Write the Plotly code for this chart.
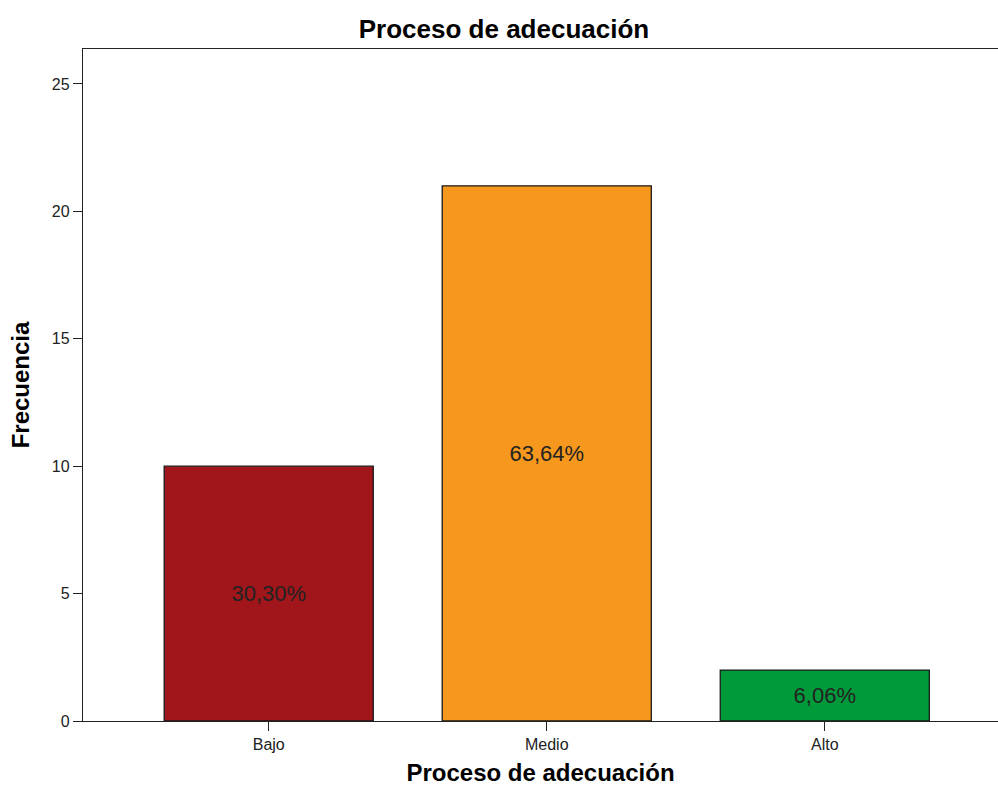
import plotly.graph_objects as go

categories = ["Bajo", "Medio", "Alto"]
frequencies = [10, 21, 2]
percent_labels = ["30,30%", "63,64%", "6,06%"]
bar_colors = ["#A0161A", "#F7981E", "#009A3A"]
y_ticks = [0, 5, 10, 15, 20, 25]

FONT = "Liberation Sans, Arial, sans-serif"

fig = go.Figure(
    go.Bar(
        x=list(range(len(categories))),
        y=frequencies,
        text=percent_labels,
        textposition="inside",
        insidetextanchor="middle",
        textangle=0,
        textfont=dict(family=FONT, size=22, color="#222222"),
        marker=dict(color=bar_colors, line=dict(color="#1a1a1a", width=1.3)),
        width=0.752,
        hoverinfo="skip",
    )
)

fig.update_layout(
    width=998,
    height=794,
    margin=dict(l=83, r=0, t=49, b=73),
    paper_bgcolor="white",
    plot_bgcolor="white",
    showlegend=False,
    uniformtext=dict(minsize=8, mode=False),
    title=dict(
        text="<b>Proceso de adecuación</b>",
        x=0.505,
        xanchor="center",
        y=0.963,
        yanchor="middle",
        font=dict(family=FONT, size=26, color="#000000"),
    ),
    font=dict(family=FONT, color="#000000"),
)

fig.update_xaxes(
    range=[-0.668, 2.623],
    tickmode="array",
    tickvals=list(range(len(categories))),
    ticktext=categories,
    ticks="outside",
    ticklen=9,
    tickwidth=1.3,
    tickcolor="#222222",
    tickfont=dict(family=FONT, size=16, color="#222222"),
    showline=True,
    linecolor="#222222",
    linewidth=1.3,
    mirror=True,
    showgrid=False,
    zeroline=False,
    title=dict(
        text="<b>Proceso de adecuación</b>",
        font=dict(family=FONT, size=24, color="#000000"),
        standoff=11,
    ),
)

fig.update_yaxes(
    range=[0, 26.37],
    tickmode="array",
    tickvals=y_ticks,
    ticks="outside",
    ticklen=9,
    tickwidth=1.3,
    tickcolor="#222222",
    tickfont=dict(family=FONT, size=16, color="#222222"),
    showline=True,
    linecolor="#222222",
    linewidth=1.3,
    showgrid=False,
    zeroline=False,
    title=dict(
        text="<b>Frecuencia</b>",
        font=dict(family=FONT, size=24, color="#000000"),
        standoff=15,
    ),
)

fig.write_html("out.html")
